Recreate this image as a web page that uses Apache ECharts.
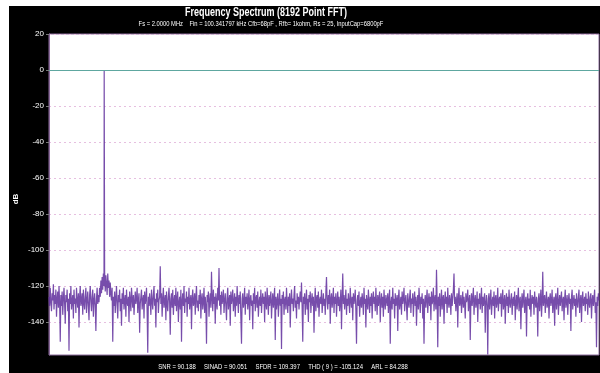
<!DOCTYPE html>
<html>
<head>
<meta charset="utf-8">
<style>
  html, body { margin: 0; padding: 0; background: #ffffff; }
  #chart { width: 600px; height: 373px; }
</style>
<script src="https://cdn.jsdelivr.net/npm/echarts@6/dist/echarts.min.js"></script>
</head>
<body>
<div id="chart"></div>
<script>
// Spectrum span (kHz) and the fundamental tone
const spanKHz = 1000;
const toneFreqKHz = 100.341797;
const toneLevelDb = 0;

// Noise floor magnitudes (dB), evenly spaced from 0 Hz to Fs/2
const noiseDb = [
  -126,-131,-121,-129,-134,-124,-128,-119,-133,-125,-130,-122,-137,-127,-123,-132,-120,-129,-151,-125,
  -131,-123,-136,-127,-121,-130,-141,-125,-129,-122,-134,-127,-156,-124,-130,-120,-133,-128,-125,-138,
  -122,-130,-127,-135,-121,-128,-132,-124,-143,-126,-120,-131,-128,-124,-136,-122,-129,-133,-126,-121,
  -135,-128,-123,-131,-139,-125,-120,-129,-134,-126,-122,-137,-128,-124,-131,-145,-127,-121,-130,-125,
  -129,-121,-126,-117,-124,-115,-122,-113,-120,-112,-123,-114,-119,-125,-113,-121,-117,-126,-118,-124,
  -128,-121,-151,-126,-131,-123,-135,-127,-120,-130,-138,-125,-129,-122,-134,-127,-142,-124,-130,-121,
  -133,-128,-125,-137,-122,-129,-131,-126,-140,-123,-128,-134,-121,-127,-132,-125,-136,-129,-123,-130,
  -127,-121,-135,-128,-124,-146,-130,-126,-122,-133,-128,-125,-138,-123,-130,-127,-121,-134,-157,-126,
  -131,-124,-129,-136,-122,-128,-133,-125,-120,-131,-127,-143,-124,-129,-122,-135,-128,-126,-109,-130,
  -124,-137,-127,-121,-132,-128,-125,-139,-123,-130,-134,-126,-121,-129,-147,-127,-124,-132,-122,-136,
  -128,-125,-131,-121,-134,-127,-123,-140,-129,-126,-133,-122,-151,-128,-124,-131,-120,-135,-127,-129,
  -123,-137,-126,-130,-121,-133,-128,-125,-144,-127,-122,-131,-129,-124,-136,-126,-120,-132,-128,-134,
  -125,-130,-122,-138,-127,-124,-133,-129,-121,-135,-126,-131,-152,-125,-129,-123,-137,-128,-124,-132,
  -112,-127,-134,-122,-130,-126,-141,-124,-129,-133,-121,-128,-110,-131,-125,-136,-123,-130,-127,-122,
  -135,-128,-124,-131,-139,-126,-121,-133,-128,-125,-142,-123,-130,-127,-122,-134,-129,-124,-137,-126,
  -131,-120,-128,-135,-125,-130,-123,-138,-152,-127,-124,-132,-129,-121,-136,-126,-130,-124,-133,-128,
  -122,-139,-127,-125,-131,-128,-144,-124,-130,-121,-134,-127,-125,-132,-123,-137,-129,-126,-131,-122,
  -135,-128,-124,-130,-126,-140,-123,-129,-133,-121,-128,-136,-125,-131,-127,-123,-138,-129,-124,-132,
  -127,-121,-150,-126,-133,-128,-124,-137,-129,-122,-131,-127,-155,-125,-130,-123,-136,-128,-126,-133,
  -121,-129,-135,-126,-131,-124,-143,-128,-122,-130,-127,-134,-125,-120,-132,-128,-138,-124,-130,-126,
  -133,-127,-123,-129,-118,-132,-151,-126,-130,-124,-136,-128,-122,-133,-127,-140,-125,-129,-123,-135,
  -128,-124,-131,-126,-146,-129,-121,-134,-127,-125,-132,-123,-137,-128,-126,-130,-122,-135,-129,-124,
  -131,-127,-136,-123,-115,-129,-133,-125,-130,-122,-141,-127,-124,-132,-128,-121,-135,-126,-130,-124,
  -137,-128,-123,-131,-126,-134,-129,-122,-144,-127,-113,-130,-125,-133,-128,-122,-136,-127,-131,-124,
  -129,-135,-121,-128,-132,-126,-139,-124,-130,-127,-122,-134,-152,-128,-125,-131,-123,-137,-129,-126,
  -132,-124,-128,-136,-121,-130,-127,-143,-125,-129,-133,-122,-128,-135,-126,-131,-124,-138,-127,-123,
  -130,-126,-134,-121,-129,-136,-125,-131,-127,-123,-140,-128,-124,-132,-126,-137,-122,-129,-133,-125,
  -128,-131,-124,-135,-127,-122,-152,-129,-126,-133,-121,-130,-127,-138,-124,-131,-128,-125,-145,-127,
  -122,-133,-129,-126,-136,-123,-130,-127,-121,-134,-128,-125,-131,-139,-124,-129,-132,-126,-122,-135,
  -127,-130,-124,-137,-128,-123,-131,-126,-142,-129,-125,-133,-121,-128,-135,-126,-130,-124,-138,-127,
  -152,-129,-125,-132,-127,-122,-135,-128,-124,-131,-126,-139,-123,-130,-128,-121,-134,-127,-125,-133,
  -111,-128,-154,-126,-131,-124,-137,-129,-122,-133,-127,-125,-141,-128,-123,-130,-126,-135,-121,-129,
  -132,-125,-128,-136,-124,-131,-127,-122,-113,-130,-126,-134,-128,-124,-143,-127,-121,-131,-129,-125,
  -135,-128,-123,-132,-126,-130,-138,-124,-129,-127,-122,-134,-128,-125,-150,-129,-124,-131,-127,-121,
  -136,-128,-125,-132,-129,-123,-140,-127,-130,-124,-133,-128,-121,-135,-126,-131,-127,-124,-146,-129,
  -125,-131,-158,-127,-124,-133,-128,-122,-136,-129,-126,-131,-123,-138,-127,-125,-132,-129,-121,-134,
  -128,-126,-130,-124,-137,-127,-122,-133,-129,-125,-141,-128,-124,-131,-126,-135,-122,-129,-132,-127,
  -124,-136,-128,-126,-131,-123,-139,-129,-125,-133,-127,-121,-134,-128,-126,-144,-129,-124,-132,-127,
  -122,-135,-129,-126,-148,-128,-124,-131,-127,-133,-122,-137,-128,-125,-130,-126,-136,-123,-129,-132,
  -126,-130,-148,-127,-124,-134,-128,-122,-137,-129,-112,-131,-127,-125,-135,-128,-123,-132,-129,-126,
  -138,-127,-124,-131,-128,-122,-135,-129,-126,-142,-127,-124,-133,-128,-121,-136,-129,-125,-131,-127,
  -123,-134,-128,-126,-139,-127,-122,-132,-129,-125,-136,-128,-124,-130,-127,-145,-126,-122,-133,-128,
  -125,-131,-127,-137,-124,-129,-132,-126,-122,-135,-128,-125,-140,-127,-123,-131,-129,-126,-134,-124,
  -130,-127,-136,-123,-129,-132,-126,-124,-138,-128,-125,-131,-127,-122,-135,-129,-154,-126,-131,-124,
  -128
];

// Y axis tick labels (dB)
const yTicks = [20, 0, -20, -40, -60, -80, -100, -120, -140];

// Header and footer texts
const chartTitle = 'Frequency Spectrum (8192 Point FFT)';
const chartSubtitle = 'Fs = 2.0000 MHz    Fin = 100.341797 kHz Cfb=68pF , Rfb= 1kohm, Rs = 25, InputCap=6800pF';
const footerText = 'SNR = 90.188     SINAD = 90.051     SFDR = 109.397     THD ( 9 ) = -105.124     ARL = 84.288';

// Build [frequency, dB] pairs and place the tone at its own frequency
const step = spanKHz / (noiseDb.length - 1);
const spectrum = [];
let toneAdded = false;
noiseDb.forEach((db, i) => {
  const f = i * step;
  if (!toneAdded && f > toneFreqKHz) {
    spectrum.push([toneFreqKHz, toneLevelDb]);
    toneAdded = true;
  }
  spectrum.push([f, db]);
});

const sans = '"Liberation Sans", Arial, sans-serif';

const chart = echarts.init(document.getElementById('chart'), null, { renderer: 'canvas' });
chart.setOption({
  animation: false,
  backgroundColor: '#ffffff',
  graphic: [
    { type: 'rect', z: -10, shape: { x: 9, y: 6, width: 591, height: 367 }, style: { fill: '#000000' } },
    { type: 'text', x: 266, y: 13, scaleX: 0.75, style: { text: chartTitle, fill: '#ffffff', font: 'bold 12px ' + sans, textAlign: 'center', textVerticalAlign: 'middle' } },
    { type: 'text', x: 261, y: 24, scaleX: 0.83, style: { text: chartSubtitle, fill: '#ffffff', font: '7px ' + sans, textAlign: 'center', textVerticalAlign: 'middle' } },
    { type: 'text', x: 283, y: 367, scaleX: 0.85, style: { text: footerText, fill: '#ffffff', font: '7px ' + sans, textAlign: 'center', textVerticalAlign: 'middle' } },
    { type: 'text', x: 16, y: 199, rotation: Math.PI / 2, style: { text: 'dB', fill: '#ffffff', font: 'bold 8px ' + sans, textAlign: 'center', textVerticalAlign: 'middle' } }
  ],
  grid: {
    left: 49, top: 34, width: 550, height: 321,
    show: true, backgroundColor: '#ffffff', borderColor: '#8c6c9c', borderWidth: 1
  },
  xAxis: {
    type: 'value', min: 0, max: spanKHz,
    axisLine: { show: false }, axisTick: { show: false }, axisLabel: { show: false },
    splitLine: { show: false }
  },
  yAxis: {
    type: 'value', min: -158.3, max: 20,
    axisLine: { show: true, lineStyle: { color: '#8c6c9c' } },
    axisTick: { show: true, length: 3, lineStyle: { color: '#777777' }, customValues: yTicks },
    axisLabel: { color: '#ffffff', fontSize: 8, fontFamily: sans, margin: 5, customValues: yTicks },
    splitLine: { show: true, lineStyle: { color: '#e6bfe0', type: [2, 3], width: 1 } }
  },
  series: [{
    type: 'line',
    data: spectrum,
    showSymbol: false,
    sampling: null,
    lineStyle: { color: '#5f2e9c', width: 1.2, opacity: 0.85 },
    markLine: {
      silent: true, symbol: 'none', label: { show: false },
      lineStyle: { color: '#5ea7a0', type: 'solid', width: 1 },
      data: [{ yAxis: 0 }]
    }
  }]
});
</script>
</body>
</html>
